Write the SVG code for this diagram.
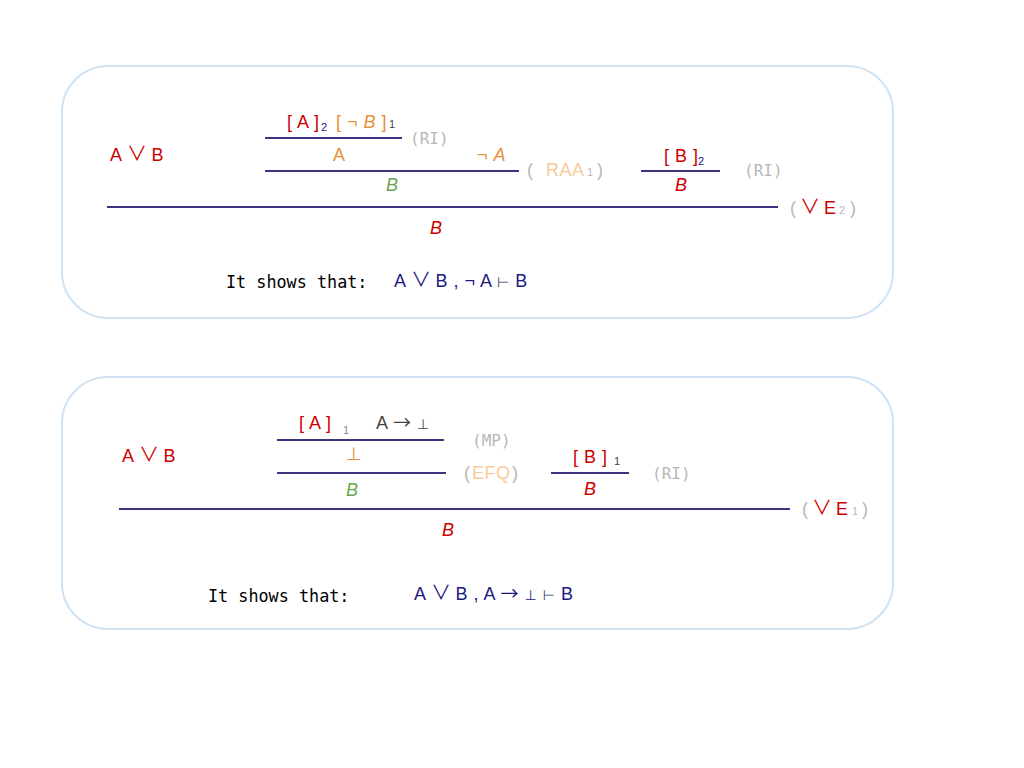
<svg xmlns="http://www.w3.org/2000/svg" width="1024" height="768" viewBox="0 0 1024 768">
<style>
.box{fill:#fff;stroke:#cfe2f3;stroke-width:2}
.rule{stroke:#3d3580;stroke-width:2.2}
text{font-family:"Liberation Sans",Arial,sans-serif;font-size:18px;letter-spacing:0.5px}
.y{font-family:"DejaVu Sans",sans-serif}
.v{font-family:"Noto Sans CJK JP","DejaVu Sans",sans-serif;font-size:20px;font-weight:400;letter-spacing:-1px}
.ar{font-family:"Noto Sans CJK JP","DejaVu Sans",sans-serif;font-size:18px;font-weight:400}
.r{fill:#cc0000}
.o{fill:#e69138}
.g{fill:#6aa84f}
.n{fill:#1c1a80}
.gr{fill:#b7b7b7}
.lo{fill:#f9cb9c}
.dk{fill:#444}
.m{font-family:"DejaVu Sans Mono","Liberation Mono",monospace;font-size:16px;letter-spacing:0}
.s{font-size:11px}
.i{font-style:italic}
.bk{fill:#000;font-family:"DejaVu Sans Mono","Liberation Mono",monospace;font-size:16.8px;letter-spacing:0}
</style>
<rect width="1024" height="768" fill="#fff"/>
<g id="proof1">
<rect class="box" x="62" y="66" width="831" height="252" rx="46"/>
<g id="rules1">
<line class="rule" x1="265" y1="138" x2="402" y2="138"/>
<line class="rule" x1="265" y1="171" x2="519" y2="171"/>
<line class="rule" x1="641" y1="171" x2="720" y2="171"/>
<line class="rule" x1="107" y1="207" x2="778" y2="207"/>
</g>
<text class="r" x="110" y="161">A <tspan class="v">∨</tspan> B</text>
<text class="r" x="287" y="128">[ A ]</text>
<text class="n s" x="321" y="131">2</text>
<text class="o" x="336" y="128">[ ¬ <tspan class="i">B</tspan> ]</text>
<text class="dk s" x="389" y="128">1</text>
<text class="gr m" x="410" y="144">(RI)</text>
<text class="o" x="333" y="161">A</text>
<text class="o" x="477" y="161">¬ <tspan class="i">A</tspan></text>
<text class="gr" x="527" y="176">(</text>
<text class="lo" x="546" y="176">RAA</text>
<text class="gr s" x="587" y="176">1</text>
<text class="gr" x="597" y="176">)</text>
<text class="r" x="664" y="162">[ B ]</text>
<text class="n s" x="698" y="165">2</text>
<text class="r i" x="675" y="191">B</text>
<text class="gr m" x="744" y="176">(RI)</text>
<text class="g i" x="386" y="191">B</text>
<text class="gr" x="790" y="214">(</text>
<text class="r v" x="800" y="214">∨</text>
<text class="r" x="824" y="214" font-size="16">E</text>
<text class="gr s" x="839" y="214">2</text>
<text class="gr" x="850" y="214">)</text>
<text class="r i" x="430" y="234">B</text>
<text class="bk" x="226" y="288">It shows that:</text>
<text class="n" x="394" y="287">A <tspan class="v">∨</tspan> B , ¬ A <tspan class="y" font-size="14" fill="#3a3a70">⊢</tspan> B</text>
</g>
<g id="proof2">
<rect class="box" x="62" y="377" width="831" height="252" rx="46"/>
<g id="rules2">
<line class="rule" x1="277" y1="440" x2="444" y2="440"/>
<line class="rule" x1="277" y1="473" x2="446" y2="473"/>
<line class="rule" x1="551" y1="473" x2="629" y2="473"/>
<line class="rule" x1="119" y1="509" x2="790" y2="509"/>
</g>
<text class="r" x="122" y="462">A <tspan class="v">∨</tspan> B</text>
<text class="r" x="299" y="429">[ A ]</text>
<text class="s" x="343" y="434" fill="#888">1</text>
<text class="dk" x="376" y="429">A <tspan class="ar">→</tspan> <tspan class="y" font-size="14">⊥</tspan></text>
<text class="gr m" x="472" y="446">(MP)</text>
<text class="o y" x="346" y="460" font-size="12">⊥</text>
<text class="gr" x="464" y="479">(</text>
<text class="lo" x="472" y="479">EFQ</text>
<text class="gr" x="512" y="479">)</text>
<text class="g i" x="346" y="496">B</text>
<text class="r" x="573" y="463">[ B ]</text>
<text class="dk s" x="614" y="465">1</text>
<text class="r i" x="584" y="495">B</text>
<text class="gr m" x="652" y="479">(RI)</text>
<text class="gr" x="802" y="515">(</text>
<text class="r v" x="812" y="515">∨</text>
<text class="r" x="836" y="515" font-size="16">E</text>
<text class="gr s" x="852" y="515">1</text>
<text class="gr" x="862" y="515">)</text>
<text class="r i" x="442" y="536">B</text>
<text class="bk" x="208" y="602">It shows that:</text>
<text class="n" x="414" y="600">A <tspan class="v">∨</tspan> B , A <tspan class="ar">→</tspan> <tspan class="y" font-size="14">⊥</tspan> <tspan class="y" font-size="14" fill="#3a3a70">⊢</tspan> B</text>
</g>
</svg>
